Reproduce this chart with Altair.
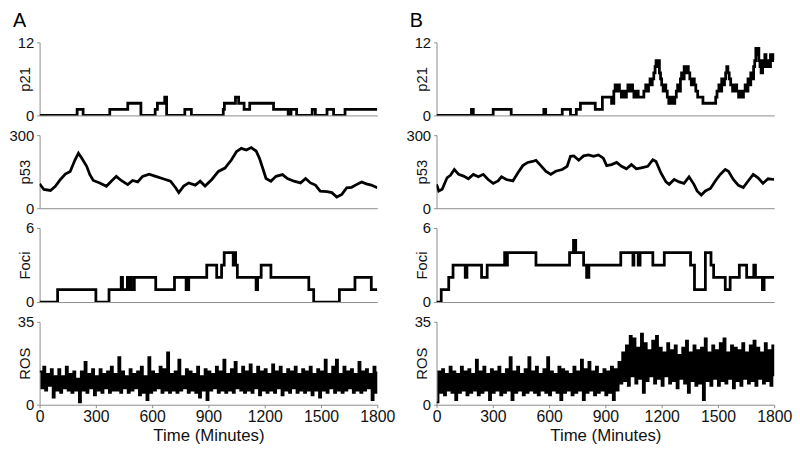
import altair as alt
import pandas as pd

FONT = "Liberation Sans"
X_TICKS = [0, 300, 600, 900, 1200, 1500, 1800]

# ---------------- Panel A ----------------
p21a_t = [0, 200, 232, 374, 470, 540, 616, 628, 667, 677, 774, 809, 979, 985, 1044, 1061,
          1090, 1120, 1247, 1325, 1340, 1370, 1453, 1470, 1532, 1567, 1628, 1800]
p21a_v = [0, 1, 0, 1, 2, 0, 1, 2, 3, 0, 1, 0, 1, 2, 3, 2,
          1, 2, 1, 0, 1, 0, 1, 0, 1, 0, 1, 1]

p53a_t = [0, 23, 58, 84, 111, 137, 163, 189, 207, 225, 251, 268, 286, 321, 356, 382, 409, 435,
          470, 496, 523, 549, 584, 619, 654, 698, 725, 742, 768, 795, 830, 856, 882, 918, 953,
          988, 1023, 1049, 1075, 1102, 1128, 1154, 1172, 1189, 1207, 1233, 1260, 1295, 1321,
          1356, 1391, 1418, 1444, 1470, 1496, 1532, 1558, 1584, 1611, 1637, 1663, 1689, 1716,
          1742, 1768, 1800]
p53a_v = [100, 77, 73, 90, 118, 140, 151, 199, 226, 205, 172, 138, 114, 104, 90, 111, 131, 114,
          97, 114, 108, 131, 140, 131, 122, 111, 84, 64, 91, 104, 95, 111, 91, 118, 151,
          165, 199, 232, 246, 239, 249, 235, 205, 165, 122, 111, 131, 138, 122,
          111, 104, 122, 104, 95, 70, 68, 64, 46, 57, 84, 86, 97, 108,
          100, 95, 84]

focia_t = [0, 96, 300, 370, 435, 442, 468, 475, 482, 490, 505, 619, 719, 781, 795, 891, 944,
           970, 984, 1032, 1038, 1045, 1054, 1154, 1162, 1181, 1233, 1435, 1461, 1598, 1681,
           1768, 1800]
focia_v = [0, 1, 0, 1, 2, 1, 2, 1, 2, 1, 2, 1, 2, 1, 2, 3, 2,
           3, 4, 3, 4, 3, 2, 1, 2, 3, 2, 1, 0, 1, 2,
           1, 1]

rosa_v = [14, 7, 16, 6, 13, 8, 15, 3, 12, 6,
          15, 5, 12, 7, 16, 6, 13, 5, 14, 6,
          11, 1, 14, 6, 18, 5, 13, 7, 15, 4,
          12, 6, 15, 5, 13, 7, 14, 5, 16, 6,
          13, 6, 20, 5, 14, 7, 12, 5, 15, 6,
          13, 7, 14, 4, 16, 5, 12, 2, 20, 5,
          14, 6, 13, 7, 16, 5, 15, 6, 22, 5,
          13, 6, 14, 5, 19, 6, 12, 7, 15, 5,
          14, 6, 13, 5, 16, 3, 12, 6, 15, 2,
          14, 6, 13, 7, 16, 5, 14, 6, 19, 5,
          13, 6, 15, 5, 18, 7, 13, 6, 16, 5,
          14, 6, 17, 5, 13, 7, 16, 4, 14, 6,
          15, 5, 13, 6, 17, 5, 14, 7, 16, 4,
          13, 6, 15, 5, 14, 7, 16, 5, 13, 6,
          15, 5, 14, 6, 16, 4, 13, 6, 15, 3,
          14, 6, 19, 5, 13, 7, 16, 5, 19, 6,
          13, 5, 16, 6, 14, 7, 15, 5, 13, 6,
          18, 5, 14, 6, 15, 7, 13, 2, 16, 5,
          14]

# ---------------- Panel B ----------------
p21b_t = [0, 186, 196, 302, 398, 572, 582, 670, 714, 745, 767, 846, 884, 933, 945, 952, 958,
          966, 975, 985, 995, 1003, 1012, 1020, 1028, 1035, 1045, 1052, 1062, 1075, 1105, 1115,
          1122, 1130, 1138, 1145, 1150, 1158, 1165, 1170, 1176, 1182, 1188, 1194, 1200, 1208,
          1214, 1222, 1230, 1238, 1250, 1262, 1270, 1278, 1285, 1292, 1300, 1306, 1313, 1320,
          1328, 1336, 1342, 1350, 1358, 1366, 1374, 1382, 1392, 1420, 1488, 1495, 1505, 1512,
          1520, 1528, 1535, 1541, 1547, 1553, 1560, 1568, 1578, 1590, 1600, 1610, 1620, 1628,
          1636, 1645, 1652, 1660, 1668, 1675, 1682, 1690, 1696, 1702, 1706, 1712, 1718, 1724,
          1730, 1738, 1745, 1750, 1756, 1762, 1768, 1774, 1780, 1786, 1792, 1800]
p21b_v = [0, 1, 0, 1, 0, 1, 0, 1, 0, 1, 2, 1, 3, 2, 4, 5, 4,
          5, 4, 3, 4, 3, 4, 5, 4, 5, 4, 3, 4, 3, 4, 5,
          4, 5, 6, 5, 6, 7, 8, 9, 8, 9, 7, 6, 5, 4,
          5, 4, 3, 2, 3, 2, 3, 4, 5, 4, 6, 7, 6, 8,
          7, 8, 7, 6, 5, 6, 5, 4, 3, 2, 3, 4, 5, 4,
          6, 5, 6, 7, 8, 7, 6, 5, 4, 5, 4, 3, 4, 3,
          4, 5, 4, 6, 5, 7, 6, 8, 9, 11, 10, 11, 9, 8,
          7, 9, 8, 10, 9, 8, 9, 8, 10, 9, 10, 9]

p53b_t = [0, 12, 30, 56, 74, 95, 118, 144, 170, 196, 223, 249, 275, 302, 328, 346, 372, 407,
          433, 460, 486, 512, 530, 556, 582, 609, 635, 670, 696, 714, 732, 758, 784, 811, 837,
          863, 889, 907, 933, 960, 986, 1012, 1039, 1065, 1091, 1126, 1153, 1170, 1196, 1223,
          1240, 1267, 1293, 1319, 1346, 1372, 1389, 1411, 1433, 1460, 1486, 1512, 1539, 1556,
          1582, 1609, 1635, 1661, 1688, 1714, 1740, 1767, 1800]
p53b_v = [98, 71, 78, 125, 135, 159, 139, 132, 121, 139, 129, 139, 118, 102, 112, 129, 118, 112,
          145, 175, 188, 192, 197, 175, 152, 139, 152, 159, 172, 213, 215, 197, 215, 219, 213,
          219, 206, 175, 179, 188, 172, 162, 179, 162, 166, 172, 199, 192, 145, 108,
          98, 118, 108, 102, 129, 98, 71, 54, 71, 81, 112, 139, 159, 152,
          118, 94, 85, 112, 139, 125, 102, 121, 118]

focib_t = [0, 25, 65, 88, 153, 162, 240, 270, 363, 370, 378, 530, 709, 730, 742, 784, 800,
           812, 982, 1047, 1052, 1075, 1085, 1153, 1214, 1354, 1375, 1433, 1463, 1477, 1539,
           1565, 1614, 1653, 1691, 1700, 1737, 1746, 1800]
focib_v = [0, 1, 2, 3, 2, 3, 2, 3, 4, 3, 4, 3, 4, 5, 4, 3, 2,
           3, 4, 3, 4, 3, 4, 3, 4, 3, 1, 4, 3, 2, 1,
           2, 3, 2, 3, 2, 1, 2, 2]

rosb_v = [1, 14, 5, 15, 4, 13, 6, 16, 5, 14,
          2, 13, 5, 16, 6, 14, 4, 15, 5, 13,
          6, 19, 4, 14, 5, 16, 6, 13, 2, 15,
          5, 14, 6, 16, 4, 13, 5, 15, 6, 20,
          2, 14, 5, 16, 6, 13, 4, 15, 5, 20,
          6, 14, 5, 16, 4, 13, 6, 15, 5, 20,
          4, 14, 6, 13, 5, 16, 2, 15, 5, 14,
          6, 13, 4, 16, 5, 14, 6, 19, 2, 15,
          5, 18, 6, 14, 4, 16, 5, 13, 6, 15,
          4, 14, 5, 16, 2, 15, 6, 18, 9, 22,
          10, 25, 8, 29, 12, 28, 9, 24, 11, 30,
          5, 26, 10, 23, 12, 27, 9, 29, 11, 24,
          8, 22, 12, 26, 9, 23, 10, 25, 7, 21,
          11, 24, 9, 27, 5, 22, 10, 25, 8, 23,
          9, 24, 2, 28, 10, 22, 8, 25, 11, 23,
          8, 26, 10, 28, 9, 22, 11, 25, 7, 24,
          10, 23, 8, 26, 11, 22, 9, 25, 10, 27,
          8, 24, 11, 22, 9, 26, 10, 23, 8, 25,
          12]

ros_t = list(range(0, 1801, 10))


def panel(t, v, ymax, ytitle, height, interp, bottom, sw):
    df = pd.DataFrame({"t": t, "v": v})
    if bottom:
        xaxis = alt.Axis(values=X_TICKS, format="d", title="Time (Minutes)", tickSize=3,
                         labelPadding=1, titlePadding=3, labelFlush=False,
                         labelFontSize=16, titleFontSize=17)
    else:
        xaxis = alt.Axis(labels=False, ticks=False, title=None)
    yaxis = alt.Axis(values=[0, ymax], title=ytitle, tickSize=3, labelPadding=3,
                     labelFontSize=15, titleFontSize=15,
                     titleX=-15, titleY=height / 2, titleAlign="center", titleBaseline="middle",
                     titleAngle=-90)
    return alt.Chart(df).mark_line(color="black", strokeWidth=sw, interpolate=interp,
                                   clip=True).encode(
        x=alt.X("t:Q", scale=alt.Scale(domain=[0, 1800], nice=False), axis=xaxis),
        y=alt.Y("v:Q", scale=alt.Scale(domain=[0, ymax], nice=False), axis=yaxis),
    ).properties(width=342, height=height)


def column(label, p21t, p21v, p53t, p53v, focit, fociv, rosv):
    return alt.vconcat(
        panel(p21t, p21v, 12, "p21", 74, "step-after", False, 2.8),
        panel(p53t, p53v, 300, "p53", 74, "linear", False, 2.8),
        panel(focit, fociv, 6, "Foci", 75, "step-after", False, 2.8),
        panel(ros_t, rosv, 35, "ROS", 84, "step-after", True, 2),
        spacing=20, bounds="flush",
        title=alt.TitleParams(label, anchor="start", dx=4, fontSize=20, fontWeight="normal",
                              font=FONT, color="black", offset=5),
    )


colA = column("A", p21a_t, p21a_v, p53a_t, p53a_v, focia_t, focia_v, rosa_v)
colB = column("B", p21b_t, p21b_v, p53b_t, p53b_v, focib_t, focib_v, rosb_v)

chart = alt.hconcat(colA, colB, spacing=10).properties(
    padding={"left": 0, "top": 0, "right": 0, "bottom": 0}
).configure_axis(
    domainColor="#8c8c8c", tickColor="#8c8c8c", grid=False,
    labelFont=FONT, labelFontSize=14, labelColor="#111111",
    titleFont=FONT, titleFontSize=14, titleFontWeight="normal", titleColor="#111111",
).configure_view(stroke=None)

chart.save("out.html", embed_options={"renderer": "svg", "actions": False})
